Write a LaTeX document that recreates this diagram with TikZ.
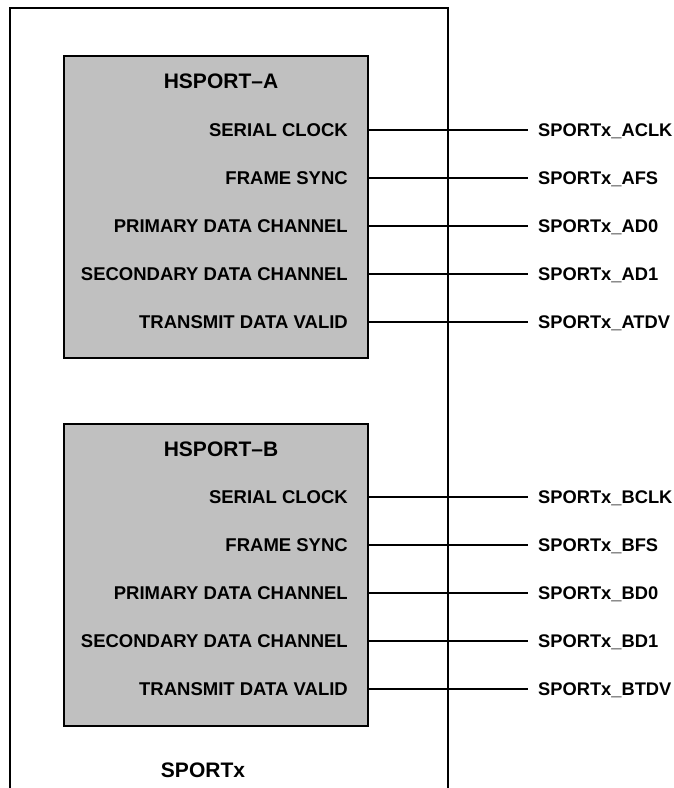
\documentclass[tikz,border=0pt]{standalone}
\usepackage{fontspec}
\setmainfont{Liberation Sans}
\definecolor{boxgray}{RGB}{192,192,192}
\begin{document}
\begin{tikzpicture}[x=1pt,y=-1pt,
  blk/.style={draw=black,line width=2.4pt,fill=boxgray,minimum width=304pt,minimum height=302pt,inner sep=0pt},
  sig/.style={font=\fontsize{18.5}{20}\bfseries,inner sep=0pt,text height=13.3pt,text depth=0pt,anchor=east},
  pin/.style={font=\fontsize{18.3}{20}\bfseries,inner sep=0pt,text height=13.2pt,text depth=0pt,anchor=west},
  ttl/.style={font=\fontsize{21}{24}\bfseries,inner sep=0pt,text height=15pt,text depth=0pt},
  wire/.style={line width=1.3pt}]
\useasboundingbox (0,0) rectangle (673,788);
\fill[white] (0,0) rectangle (673,788);
% outer SPORTx frame (open at the bottom)
\coordinate (obl) at (10,788);
\coordinate (obr) at (448,788);
\draw[line width=2pt] (obl) -- (10,8) -- (448,8) -- (obr);
% blocks
\node[blk] (boxA) at (216,207) {};
\node[blk] (boxB) at (216,575) {};
\node[ttl] (tA) at (221,81) {HSPORT–A};
\node[ttl] (tB) at (221,449) {HSPORT–B};
\node[ttl] (tS) at (203,770) {SPORTx};
% signals A
\node[sig] (a1) at (348,130) {SERIAL CLOCK};
\node[sig] (a2) at (348,178) {FRAME SYNC};
\node[sig] (a3) at (348,226) {PRIMARY DATA CHANNEL};
\node[sig] (a4) at (348,274) {SECONDARY DATA CHANNEL};
\node[sig] (a5) at (348,322) {TRANSMIT DATA VALID};
\node[pin] (pa1) at (538,130) {SPORTx\_ACLK};
\node[pin] (pa2) at (538,178) {SPORTx\_AFS};
\node[pin] (pa3) at (538,226) {SPORTx\_AD0};
\node[pin] (pa4) at (538,274) {SPORTx\_AD1};
\node[pin] (pa5) at (538,322) {SPORTx\_ATDV};
% signals B
\node[sig] (b1) at (348,497) {SERIAL CLOCK};
\node[sig] (b2) at (348,545) {FRAME SYNC};
\node[sig] (b3) at (348,593) {PRIMARY DATA CHANNEL};
\node[sig] (b4) at (348,641) {SECONDARY DATA CHANNEL};
\node[sig] (b5) at (348,689) {TRANSMIT DATA VALID};
\node[pin] (pb1) at (538,497) {SPORTx\_BCLK};
\node[pin] (pb2) at (538,545) {SPORTx\_BFS};
\node[pin] (pb3) at (538,593) {SPORTx\_BD0};
\node[pin] (pb4) at (538,641) {SPORTx\_BD1};
\node[pin] (pb5) at (538,689) {SPORTx\_BTDV};
% wires
\foreach \i in {1,...,5}{
  \draw[wire] (boxA.east |- a\i) -- ([xshift=-10pt]pa\i.west);
  \draw[wire] (boxB.east |- b\i) -- ([xshift=-10pt]pb\i.west);
}
\end{tikzpicture}
\end{document}
